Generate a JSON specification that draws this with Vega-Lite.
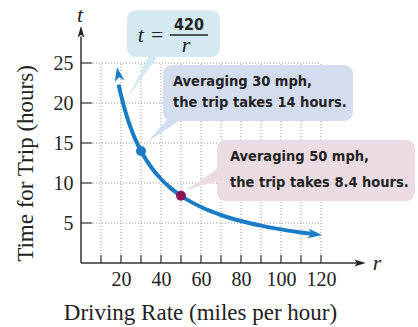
{
  "$schema": "https://vega.github.io/schema/vega-lite/v6.json",
  "width": 280,
  "height": 236,
  "autosize": {"type": "none"},
  "padding": {"left": 81, "top": 27, "right": 57, "bottom": 64},
  "background": "white",
  "config": {
    "view": {"stroke": null},
    "axis": {
      "domain": false, "ticks": false, "grid": false,
      "labelFont": "Liberation Serif", "labelFontSize": 20, "labelColor": "#222",
      "titleFont": "Liberation Serif", "titleFontSize": 23, "titleFontWeight": "normal", "titleColor": "#222"
    },
    "axisX": {"labelPadding": 6},
    "axisY": {"labelPadding": 8}
  },
  "datasets": {
    "gridR": [{"r": 10}, {"r": 20}, {"r": 30}, {"r": 40}, {"r": 50}, {"r": 60}, {"r": 70}, {"r": 80}, {"r": 90}, {"r": 100}, {"r": 110}, {"r": 120}],
    "gridT": [{"t": 5}, {"t": 10}, {"t": 15}, {"t": 20}, {"t": 25}],
    "curve": [
      {"r": 18.8, "t": 22.3}, {"r": 20, "t": 21}, {"r": 22.5, "t": 18.67}, {"r": 25, "t": 16.8}, {"r": 27.5, "t": 15.27},
      {"r": 30, "t": 14}, {"r": 35, "t": 12}, {"r": 40, "t": 10.5}, {"r": 45, "t": 9.33}, {"r": 50, "t": 8.4},
      {"r": 55, "t": 7.64}, {"r": 60, "t": 7}, {"r": 70, "t": 6}, {"r": 80, "t": 5.25}, {"r": 90, "t": 4.67},
      {"r": 100, "t": 4.2}, {"r": 110, "t": 3.82}, {"r": 117, "t": 3.59}
    ],
    "curveArrows": [{"r": 18.65, "t": 23.6, "angle": -11}, {"r": 117, "t": 3.6, "angle": 97}],
    "axisArrows": [{"r": 139.5, "t": 0, "angle": 90}, {"r": 0, "t": 28.9, "angle": 0}],
    "axisLetters": [{"r": -0.5, "t": 31, "label": "t"}, {"r": 148, "t": 0, "label": "r"}],
    "boxes": [
      {"id": "formula", "r1": 23, "r2": 69.5, "t1": 31.6, "t2": 25.75},
      {"id": "c30", "r1": 41, "r2": 136, "t1": 24.75, "t2": 17.75},
      {"id": "c50", "r1": 68, "r2": 167, "t1": 15.4, "t2": 7.75}
    ],
    "ptrH": [
      {"id": "formula", "t": 20.75, "ra": 23.5, "rb": 23.5},
      {"id": "formula", "t": 26.2, "ra": 34.5, "rb": 39.5},
      {"id": "c30", "t": 15.1, "ra": 33, "rb": 33},
      {"id": "c30", "t": 18.2, "ra": 44, "rb": 51.5}
    ],
    "ptrV": [
      {"id": "c50", "r": 52.5, "ta": 9.1, "tb": 9.1},
      {"id": "c50", "r": 69, "ta": 10.3, "tb": 11.9}
    ],
    "callText": [
      {"id": "c30", "r": 46, "t": 22.6, "text": "Averaging 30 mph,"},
      {"id": "c30", "r": 46, "t": 20.0, "text": "the trip takes 14 hours."},
      {"id": "c50", "r": 74.5, "t": 13.25, "text": "Averaging 50 mph,"},
      {"id": "c50", "r": 74.5, "t": 10.0, "text": "the trip takes 8.4 hours."}
    ],
    "points": [{"r": 30, "t": 14, "kind": "a"}, {"r": 50, "t": 8.4, "kind": "b"}]
  },
  "layer": [
    {
      "data": {"name": "gridR"},
      "mark": {"type": "rule", "color": "#9a9a9a", "strokeDash": [1, 2], "strokeWidth": 1},
      "encoding": {
        "x": {
          "field": "r", "type": "quantitative",
          "scale": {"domain": [0, 140], "nice": false, "zero": false},
          "axis": {
            "values": [20, 40, 60, 80, 100, 120],
            "title": "Driving Rate (miles per hour)", "titleX": 119, "titleY": 49, "titleBaseline": "middle"
          }
        },
        "y": {
          "datum": 0, "type": "quantitative",
          "scale": {"domain": [0, 29.5], "nice": false, "zero": false},
          "axis": {
            "values": [5, 10, 15, 20, 25],
            "title": "Time for Trip (hours)", "titleX": -56, "titleY": 136, "titleBaseline": "middle"
          }
        },
        "y2": {"datum": 25}
      }
    },
    {
      "data": {"name": "gridT"},
      "mark": {"type": "rule", "color": "#9a9a9a", "strokeDash": [1, 2], "strokeWidth": 1},
      "encoding": {
        "y": {"field": "t", "type": "quantitative"},
        "x": {"datum": 0, "type": "quantitative"},
        "x2": {"datum": 120}
      }
    },
    {
      "data": {"name": "gridR"},
      "mark": {"type": "rule", "color": "#444", "strokeWidth": 1.3},
      "encoding": {
        "x": {"field": "r", "type": "quantitative"},
        "y": {"datum": 0, "type": "quantitative"},
        "y2": {"datum": 1}
      }
    },
    {
      "data": {"name": "gridT"},
      "mark": {"type": "rule", "color": "#444", "strokeWidth": 1.3},
      "encoding": {
        "y": {"field": "t", "type": "quantitative"},
        "x": {"datum": 0, "type": "quantitative"},
        "x2": {"datum": 5.5}
      }
    },
    {
      "data": {"values": [{"a": 1}]},
      "mark": {"type": "rule", "color": "#333", "strokeWidth": 1.5},
      "encoding": {
        "x": {"datum": 0, "type": "quantitative"},
        "x2": {"datum": 138},
        "y": {"datum": 0, "type": "quantitative"}
      }
    },
    {
      "data": {"values": [{"a": 1}]},
      "mark": {"type": "rule", "color": "#333", "strokeWidth": 1.5},
      "encoding": {
        "x": {"datum": 0, "type": "quantitative"},
        "y": {"datum": 0, "type": "quantitative"},
        "y2": {"datum": 28.3}
      }
    },
    {
      "data": {"name": "axisArrows"},
      "mark": {"type": "point", "shape": "M0,-1L0.6,1L0,0.5L-0.6,1Z", "filled": true, "color": "#222", "size": 130, "opacity": 1},
      "encoding": {
        "x": {"field": "r", "type": "quantitative"},
        "y": {"field": "t", "type": "quantitative"},
        "angle": {"field": "angle", "type": "quantitative", "scale": null}
      }
    },
    {
      "data": {"name": "axisLetters"},
      "mark": {"type": "text", "font": "Liberation Serif", "fontStyle": "italic", "fontSize": 22, "color": "#222", "align": "center", "baseline": "middle"},
      "encoding": {
        "x": {"field": "r", "type": "quantitative"},
        "y": {"field": "t", "type": "quantitative"},
        "text": {"field": "label"}
      }
    },
    {
      "data": {"name": "curve"},
      "mark": {"type": "line", "color": "#1b7cc6", "strokeWidth": 4, "interpolate": "monotone"},
      "encoding": {
        "x": {"field": "r", "type": "quantitative"},
        "y": {"field": "t", "type": "quantitative"}
      }
    },
    {
      "data": {"name": "curveArrows"},
      "mark": {"type": "point", "shape": "M0,-1L0.7,1L0,0.45L-0.7,1Z", "filled": true, "color": "#1b7cc6", "size": 200, "opacity": 1},
      "encoding": {
        "x": {"field": "r", "type": "quantitative"},
        "y": {"field": "t", "type": "quantitative"},
        "angle": {"field": "angle", "type": "quantitative", "scale": null}
      }
    },
    {
      "data": {"name": "ptrH"},
      "mark": {"type": "area", "orient": "horizontal", "opacity": 1},
      "encoding": {
        "y": {"field": "t", "type": "quantitative"},
        "x": {"field": "ra", "type": "quantitative"},
        "x2": {"field": "rb"},
        "detail": {"field": "id"},
        "color": {"field": "id", "type": "nominal", "legend": null,
          "scale": {"domain": ["formula", "c30", "c50"], "range": ["#d5e9f2", "#d4ddf0", "#ebdce3"]}}
      }
    },
    {
      "data": {"name": "ptrV"},
      "mark": {"type": "area", "orient": "vertical", "opacity": 1},
      "encoding": {
        "x": {"field": "r", "type": "quantitative"},
        "y": {"field": "ta", "type": "quantitative"},
        "y2": {"field": "tb"},
        "detail": {"field": "id"},
        "color": {"field": "id", "type": "nominal", "legend": null}
      }
    },
    {
      "data": {"name": "boxes"},
      "mark": {"type": "rect", "cornerRadius": 9, "opacity": 1},
      "encoding": {
        "x": {"field": "r1", "type": "quantitative"},
        "x2": {"field": "r2"},
        "y": {"field": "t1", "type": "quantitative"},
        "y2": {"field": "t2"},
        "color": {"field": "id", "type": "nominal", "legend": null}
      }
    },
    {
      "data": {"name": "callText"},
      "mark": {"type": "text", "font": "DejaVu Sans Condensed", "fontWeight": "bold", "fontSize": 14.5, "color": "#222", "align": "left", "baseline": "middle"},
      "encoding": {
        "x": {"field": "r", "type": "quantitative"},
        "y": {"field": "t", "type": "quantitative"},
        "text": {"field": "text"}
      }
    },
    {
      "data": {"values": [{"r": 35, "t": 28.5, "s": "t ="}]},
      "mark": {"type": "text", "font": "Liberation Serif", "fontStyle": "italic", "fontSize": 22, "color": "#222", "align": "center", "baseline": "middle"},
      "encoding": {
        "x": {"field": "r", "type": "quantitative"},
        "y": {"field": "t", "type": "quantitative"},
        "text": {"field": "s"}
      }
    },
    {
      "data": {"values": [{"r": 54, "t": 29.8, "s": "420"}]},
      "mark": {"type": "text", "font": "DejaVu Sans Condensed", "fontWeight": "bold", "fontSize": 16, "color": "#222", "align": "center", "baseline": "middle"},
      "encoding": {
        "x": {"field": "r", "type": "quantitative"},
        "y": {"field": "t", "type": "quantitative"},
        "text": {"field": "s"}
      }
    },
    {
      "data": {"values": [{"r": 52.5, "t": 27.2, "s": "r"}]},
      "mark": {"type": "text", "font": "Liberation Serif", "fontStyle": "italic", "fontSize": 22, "color": "#222", "align": "center", "baseline": "middle"},
      "encoding": {
        "x": {"field": "r", "type": "quantitative"},
        "y": {"field": "t", "type": "quantitative"},
        "text": {"field": "s"}
      }
    },
    {
      "data": {"values": [{"a": 1}]},
      "mark": {"type": "rule", "color": "#222", "strokeWidth": 1.5},
      "encoding": {
        "x": {"datum": 44.5, "type": "quantitative"},
        "x2": {"datum": 63.5},
        "y": {"datum": 28.5, "type": "quantitative"}
      }
    },
    {
      "data": {"name": "points"},
      "mark": {"type": "point", "filled": true, "opacity": 1, "size": 100},
      "encoding": {
        "x": {"field": "r", "type": "quantitative"},
        "y": {"field": "t", "type": "quantitative"},
        "fill": {"field": "kind", "type": "nominal", "legend": null,
          "scale": {"domain": ["a", "b"], "range": ["#1b7cc6", "#8e1553"]}}
      }
    }
  ]
}
